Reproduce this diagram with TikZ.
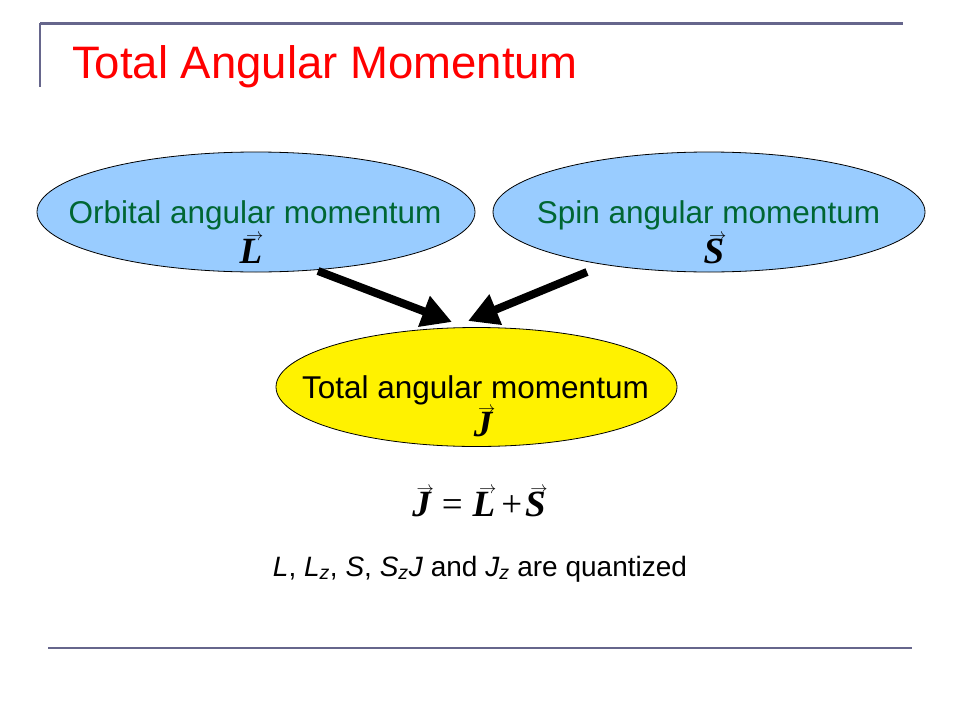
\documentclass[tikz,border=0pt]{standalone}
\usepackage{fontspec}
\setmainfont{Liberation Sans}
\newfontfamily\tnr{Liberation Serif}
\usetikzlibrary{shapes.geometric,arrows.meta}
\definecolor{rulecol}{RGB}{102,102,140}
\definecolor{bluefill}{RGB}{153,204,255}
\definecolor{greentext}{RGB}{0,102,51}
\newcommand{\vecl}[1]{{\setbox0=\hbox{\tnr\bfseries\itshape #1}%
  \hbox to \wd0{\hss\raisebox{0.6em}{\kern0.2em\fontsize{19}{19}\selectfont$\rightarrow$}\hss}%
  \kern-\wd0\box0}}
\tikzset{
  rulerline/.style={draw=rulecol,line width=2.5pt},
  bubble/.style={ellipse,draw=black,line width=0.8pt,inner sep=0pt},
  lbl/.style={anchor=base,inner sep=0pt,font=\fontsize{31.5}{36}\selectfont},
  vlbl/.style={anchor=base,inner sep=0pt,font=\fontsize{37}{42}\selectfont},
  bigarrow/.style={line width=8pt,-{Triangle[length=30pt,width=31pt]}}
}
\begin{document}
\begin{tikzpicture}[x=1pt,y=-1pt]
\useasboundingbox (0,0) rectangle (960,720);
% rules
\draw[rulerline] (40,23.5) -- (903,23.5);
\draw[rulerline] (40,22.5) -- (40,87);
\draw[rulerline] (48,648) -- (912,648);
% title
\node[anchor=base west,inner sep=0pt,text=red,font=\fontsize{45.5}{50}\selectfont] (title) at (72,78) {Total Angular Momentum};
% ellipses
\node[bubble,fill=bluefill,minimum width=438pt,minimum height=120pt] (orb) at (256,212) {};
\node[bubble,fill=bluefill,minimum width=432pt,minimum height=120pt] (spin) at (709,212) {};
\node[bubble,fill=yellow,minimum width=401pt,minimum height=119pt] (tot) at (476.5,387) {};
% labels
\node[lbl,text=greentext] (orbt) at (255,223) {Orbital angular momentum};
\node[lbl,text=greentext] (spint) at (708.5,223) {Spin angular momentum};
\node[lbl,text=black] (tott) at (475.5,398) {Total angular momentum};
\node[vlbl] (Lv) at (251,263) {\vecl{L}};
\node[vlbl] (Sv) at (714,263) {\vecl{S}};
\node[vlbl] (Jv) at (483,436) {\vecl{J}};
% arrows
\coordinate (a1s) at (318,271);
\coordinate (a1e) at (452,322);
\coordinate (a2s) at (587,272);
\coordinate (a2e) at (468,321);
\draw[bigarrow] (a1s) -- (a1e);
\draw[bigarrow] (a2s) -- (a2e);
% equation
\node[vlbl] (eq) at (479,516) {\vecl{J}\kern11pt{\tnr =}\kern10pt\vecl{L}\kern6pt{\tnr +}\kern3pt\vecl{S}};
% bottom text
\node[anchor=base,inner sep=0pt,font=\fontsize{28}{32}\selectfont] (quant) at (480,576)
  {\textit{L}, \textit{L\textsubscript{z}}, \textit{S}, \textit{S\textsubscript{z}J} and \textit{J\textsubscript{z}} are quantized};
\end{tikzpicture}
\end{document}
